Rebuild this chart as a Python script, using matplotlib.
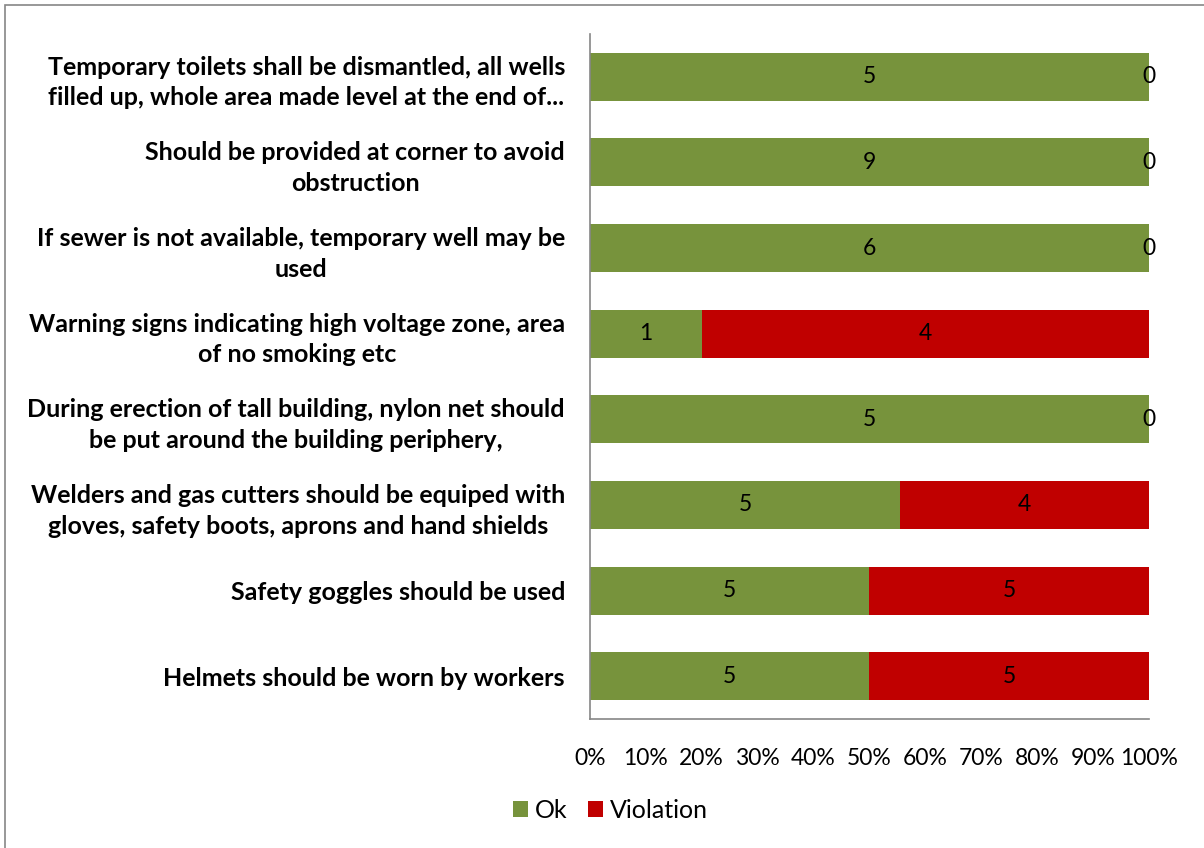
import matplotlib.pyplot as plt
from matplotlib.patches import Rectangle
from matplotlib.ticker import PercentFormatter

plt.rcParams['font.family'] = ['Lato', 'DejaVu Sans']

labels = [
    "Helmets should be worn by workers",
    "Safety goggles should be used",
    "Welders and gas cutters should be equiped with\ngloves, safety boots, aprons and hand shields",
    "During erection of tall building, nylon net should\nbe put around the building periphery,",
    "Warning signs indicating high voltage zone, area\nof no smoking etc",
    "If sewer is not available, temporary well may be\nused",
    "Should be provided at corner to avoid\nobstruction",
    "Temporary toilets shall be dismantled, all wells\nfilled up, whole area made level at the end of...",
]
ok = [5, 5, 5, 5, 1, 6, 9, 5]
violation = [5, 5, 4, 0, 4, 0, 0, 0]

green = '#77933C'
red = '#C00000'

fig = plt.figure(figsize=(12.04, 8.48), dpi=100)
ax = fig.add_axes([0.49, 0.152, 0.464, 0.808])

totals = [a + b for a, b in zip(ok, violation)]
ok_pct = [a / t * 100 for a, t in zip(ok, totals)]
vio_pct = [b / t * 100 for b, t in zip(violation, totals)]
y = list(range(len(labels)))

b1 = ax.barh(y, ok_pct, height=0.56, color=green, label='Ok')
b2 = ax.barh(y, vio_pct, left=ok_pct, height=0.56, color=red, label='Violation')

for i in y:
    ax.text(ok_pct[i] / 2, i, str(ok[i]), ha='center', va='center', fontsize=16.5)
    ax.text(ok_pct[i] + vio_pct[i] / 2, i, str(violation[i]), ha='center', va='center', fontsize=16.5)

ax.set_xlim(0, 100)
ax.set_ylim(-0.5, len(labels) - 0.5)
ax.set_xticks(range(0, 101, 10))
ax.xaxis.set_major_formatter(PercentFormatter(decimals=0))
ax.set_yticks(y)
ax.set_yticklabels(labels, fontsize=18, fontweight='bold', linespacing=1.4)
for t in ax.get_yticklabels():
    t.set_multialignment('center')
ax.tick_params(axis='x', length=0, pad=21, labelsize=16.5)
ax.tick_params(axis='y', length=0, pad=18)
for s in ['top', 'right']:
    ax.spines[s].set_visible(False)
for s in ['left', 'bottom']:
    ax.spines[s].set_color('#868686')
    ax.spines[s].set_linewidth(1.2)

fig.legend(handles=[b1, b2], loc='center', bbox_to_anchor=(0.507, 0.044),
           ncol=2, frameon=False, fontsize=18, handlelength=0.6,
           handleheight=0.6, handletextpad=0.3, columnspacing=0.8)

# outer chart border
fig.patches.append(Rectangle((5 / 1204, -0.1), 1.2, (848 - 5) / 848 + 0.1,
                             transform=fig.transFigure, fill=False,
                             edgecolor='#868686', linewidth=1.2))

fig.savefig('out.png', dpi=100)
